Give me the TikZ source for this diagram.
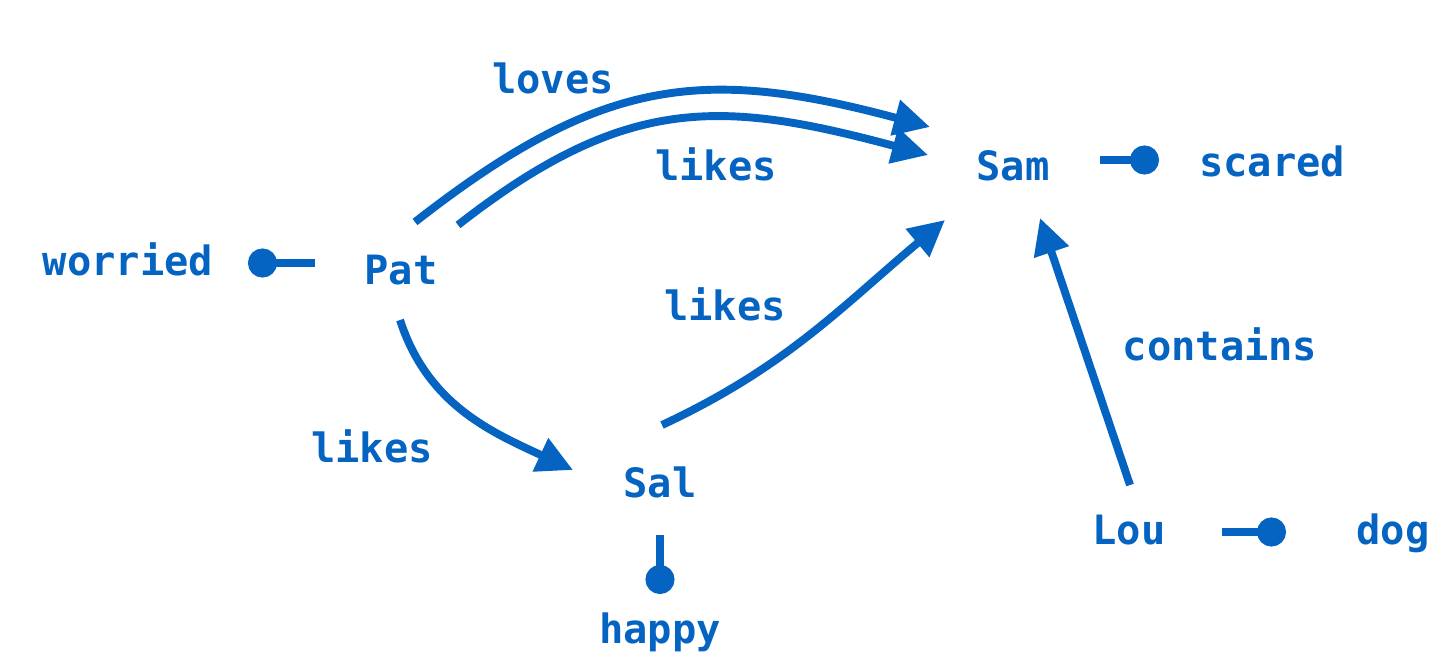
\documentclass[tikz,border=0pt]{standalone}
\usepackage{fontspec}
\usepackage{xcolor}
\usetikzlibrary{arrows.meta}
\newfontfamily\graphfont{DejaVu Sans Mono}
\definecolor{relblue}{RGB}{5,99,193}

\begin{document}
\begin{tikzpicture}[x=0.02cm, y=0.02cm, line width=4.5pt, draw=relblue]
    \tikzstyle{word}=[text=relblue, font=\graphfont\bfseries\fontsize{23}{28}\selectfont, anchor=base, inner sep=0pt]
    \tikzstyle{entity}=[word]
    \tikzstyle{attribute}=[word]
    \tikzstyle{relation}=[-{Triangle[length=0.72cm,width=0.7cm]}]
    \tikzstyle{property}=[-{Circle[length=0.58cm]}]

    \useasboundingbox (0,0) rectangle (1446,-652);

    % entities
    \node[entity] (Pat) at (401,-284) {Pat};
    \node[entity] (Sam) at (1013,-180) {Sam};
    \node[entity] (Sal) at (660,-497) {Sal};
    \node[entity] (Lou) at (1129,-544) {Lou};

    % attributes
    \node[attribute] (worried) at (128,-275) {worried};
    \node[attribute] (scared) at (1272,-176) {scared};
    \node[attribute] (happy) at (660,-643) {happy};
    \node[attribute] (dog) at (1393,-544) {dog};

    % relation labels
    \node[word] (loves) at (553,-93) {loves};
    \node[word] (likes-1) at (716,-180) {likes};
    \node[word] (likes-2) at (725,-320) {likes};
    \node[word] (likes-3) at (372,-462) {likes};
    \node[word] (contains) at (1220,-360) {contains};

    \draw[relation] ([shift={(14,62)}]Pat.base) to[out=38,in=165,looseness=1.15] ([shift={(-83,53)}]Sam.base);
    \draw[relation] ([shift={(57,59)}]Pat.base) to[out=38,in=165,looseness=1.15] ([shift={(-85,25)}]Sam.base);
    \draw[relation] ([shift={(-1,-36)}]Pat.base) to[out=-72,in=155] ([shift={(-87,27)}]Sal.base);
    \draw[relation] ([shift={(2,72)}]Sal.base) to[out=25,in=220] ([shift={(-68,-40)}]Sam.base);
    \draw[relation] ([shift={(1,59)}]Lou.base) -- ([shift={(27,-38)}]Sam.base);

    \draw[property] ([shift={(-86,21)}]Pat.base) -- ([shift={(120,12)}]worried.base);
    \draw[property] ([shift={(87,20)}]Sam.base) -- ([shift={(-113,16)}]scared.base);
    \draw[property] ([shift={(0,-38)}]Sal.base) -- ([shift={(0,49)}]happy.base);
    \draw[property] ([shift={(93,12)}]Lou.base) -- ([shift={(-107,12)}]dog.base);
\end{tikzpicture}
\end{document}
